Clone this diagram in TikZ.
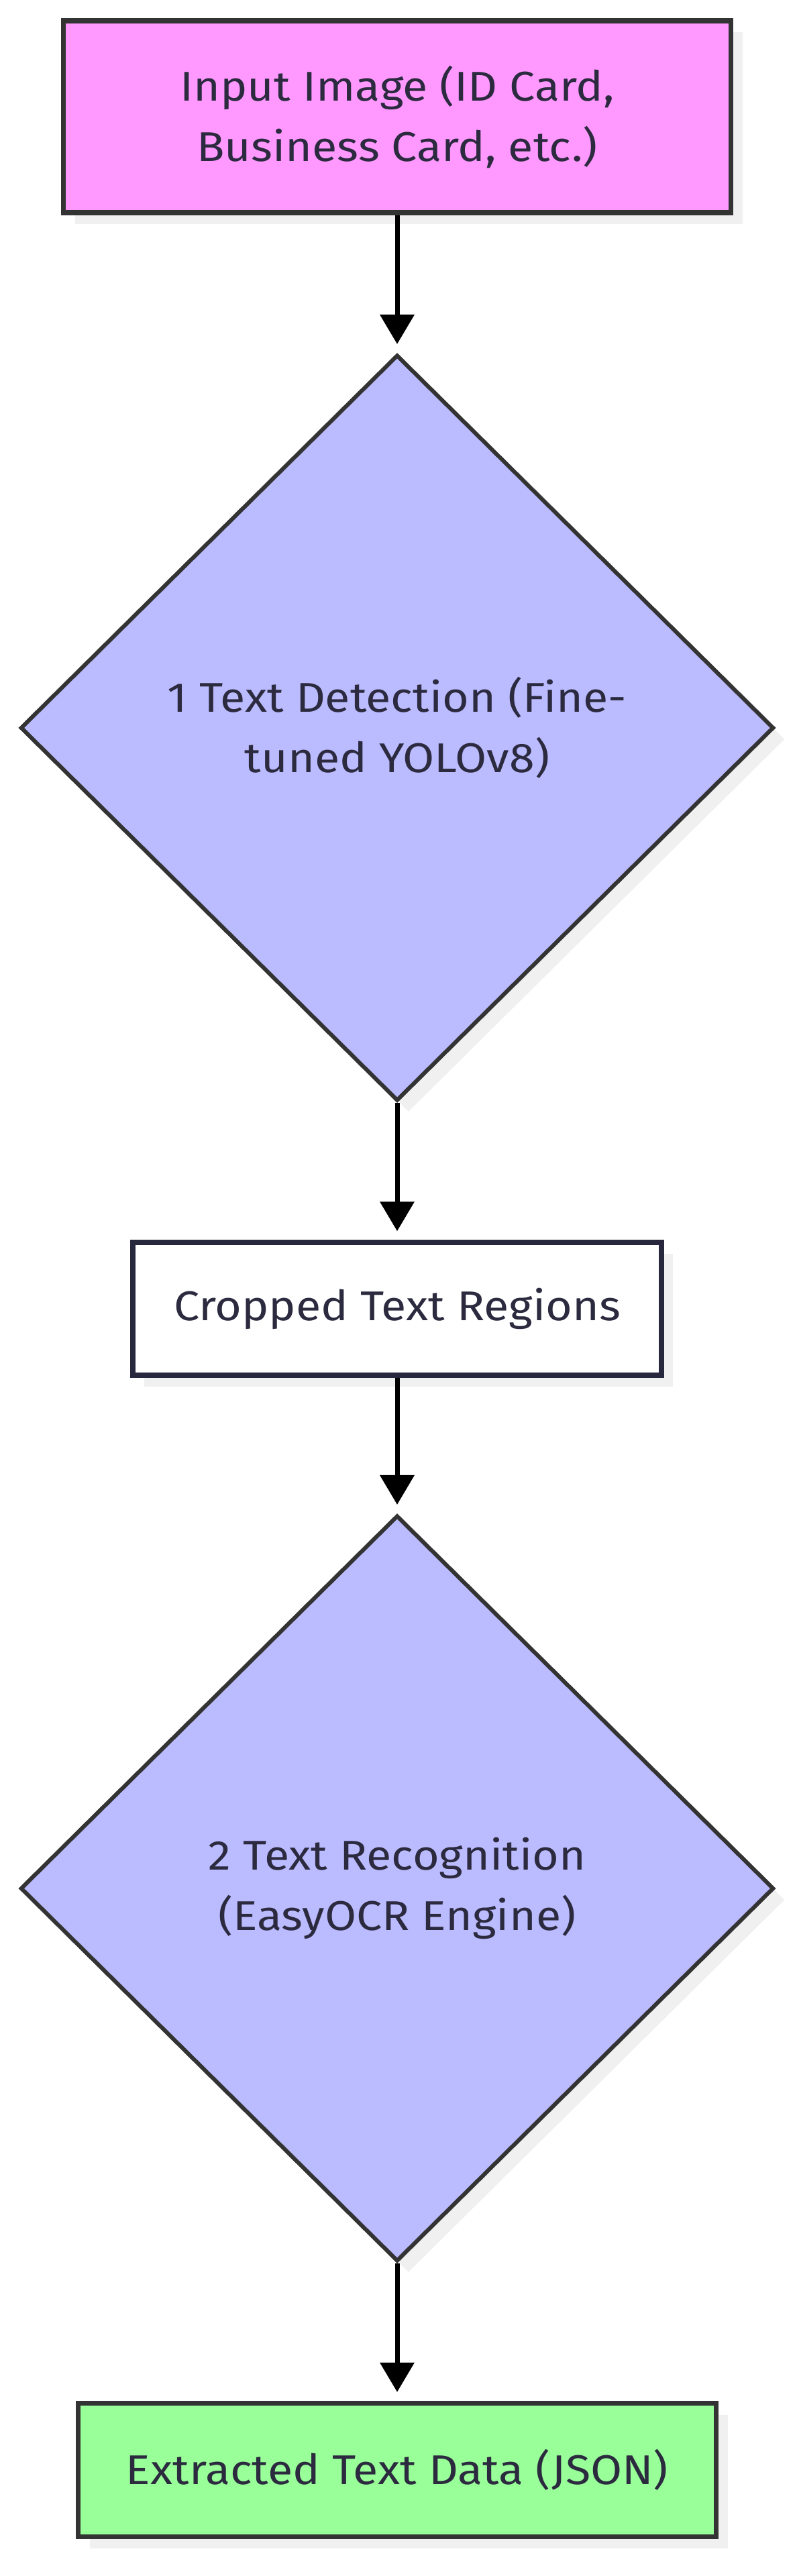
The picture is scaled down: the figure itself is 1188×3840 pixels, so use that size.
\documentclass[tikz,border=0pt]{standalone}
\usepackage{fontspec}
\setmainfont[FakeStretch=1.1]{Fira Sans}
\usepackage{xcolor}
\usepackage{tikz}
\usetikzlibrary{shapes.geometric, arrows.meta, shadows}

\definecolor{inpink}{HTML}{FF99FF}
\definecolor{steplav}{HTML}{BBBBFF}
\definecolor{outgreen}{HTML}{99FF99}
\definecolor{edgegray}{HTML}{333333}
\definecolor{navyline}{HTML}{27273E}
\definecolor{inktext}{HTML}{2B2A3F}

\begin{document}
\begin{tikzpicture}[
  x=1pt, y=1pt,
  font=\fontsize{62}{90}\selectfont,
  box/.style={rectangle, draw=edgegray, line width=7.5pt, align=center,
              text=inktext, inner sep=0pt,
              drop shadow={shadow xshift=17pt, shadow yshift=-17pt,
                           fill=black!6, opacity=1}},
  inbox/.style={box, fill=inpink, minimum width=995pt, minimum height=286pt},
  midbox/.style={box, draw=navyline, fill=white, minimum width=788pt, minimum height=198pt},
  outbox/.style={box, fill=outgreen, minimum width=951pt, minimum height=199pt},
  stepdia/.style={diamond, aspect=1, draw=edgegray, line width=6pt, fill=steplav,
                  align=center, text=inktext, inner sep=0pt,
                  minimum width=1123pt, minimum height=1112pt,
                  drop shadow={shadow xshift=17pt, shadow yshift=-17pt,
                               fill=black!6, opacity=1}},
  arr/.style={-{Triangle[length=44pt, width=50pt]}, line width=7pt, black,
              shorten >=13pt},
]
\useasboundingbox (0,0) rectangle (1188,-3840);

% pipeline
\node[inbox] (input) at (592,-174) {Input Image (ID Card,\\Business Card, etc.)};
\node[stepdia] (detect) at (592,-1085) {1 Text Detection (Fine-\\tuned YOLOv8)};
\node[midbox] (crop) at (592,-1951) {Cropped Text Regions};
\node[stepdia] (recog) at (592,-2815) {2 Text Recognition\\(EasyOCR Engine)};
\node[outbox] (output) at (592,-3682) {Extracted Text Data (JSON)};

% arrows
\draw[arr] (input) -- (detect);
\draw[arr] (detect) -- (crop);
\draw[arr] (crop) -- (recog);
\draw[arr] (recog) -- (output);
\end{tikzpicture}
\end{document}
